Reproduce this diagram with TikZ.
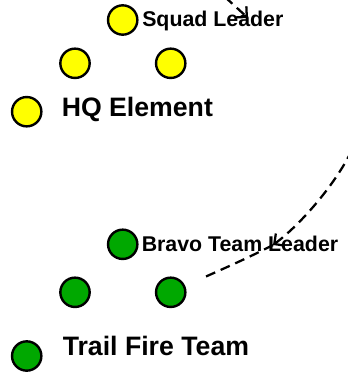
\documentclass[tikz,border=0pt]{standalone}
\usepackage{fontspec}
\setmainfont{Liberation Sans}
\usetikzlibrary{arrows.meta}
\definecolor{squadyellow}{RGB}{255,255,0}
\definecolor{teamgreen}{RGB}{0,168,0}
\tikzset{
  soldier/.style={circle, draw=black, line width=1.8pt, minimum size=22pt, inner sep=0pt},
  small label/.style={anchor=base west, inner sep=0pt, font=\bfseries\fontsize{16}{18}\selectfont},
  big label/.style={anchor=base west, inner sep=0pt, font=\bfseries\fontsize{20}{22}\selectfont},
  movepath/.style={line width=1.7pt, dash pattern=on 7.5pt off 4.5pt, -{Straight Barb[angle=90:8pt]}},
}
\begin{document}
\begin{tikzpicture}[x=0.75pt, y=-0.75pt]
    \useasboundingbox (0,0) rectangle (347,375);

    % squad leader and HQ element
    \node[soldier, fill=squadyellow] at (122.7,20)(sqLead){};
    \node[soldier, fill=squadyellow] at (75,63.3)(sqLeft){};
    \node[soldier, fill=squadyellow] at (170.7,63.3)(sqRight){};
    \node[soldier, fill=squadyellow] at (26.7,111.7)(hq){};
    \node[small label] at (142,26.7)(sqText){Squad Leader};
    \node[big label] at (61.5,116)(hqText){HQ Element};

    % bravo team / trail fire team
    \node[soldier, fill=teamgreen] at (122.7,244.3)(btLead){};
    \node[soldier, fill=teamgreen] at (75,292.3)(btLeft){};
    \node[soldier, fill=teamgreen] at (170.7,292.3)(btRight){};
    \node[soldier, fill=teamgreen] at (26.7,356)(trail){};
    \node[small label] at (141.5,251)(btText){Bravo Team Leader};
    \node[big label] at (62.5,355)(trailText){Trail Fire Team};

    \coordinate (topIn) at (225,-3);
    \coordinate (sqTip) at (248,18);
    \coordinate (rightIn) at (352,150);
    \coordinate (btTip) at (273,245);

    \draw[movepath] (topIn) -- (sqTip);
    \draw[movepath] (rightIn) .. controls (335,185) and (300,225) .. (btTip);
    \draw[movepath, -, shorten >=15pt] (btTip) .. controls (250,257) and (225,268) .. (btRight);
\end{tikzpicture}
\end{document}
